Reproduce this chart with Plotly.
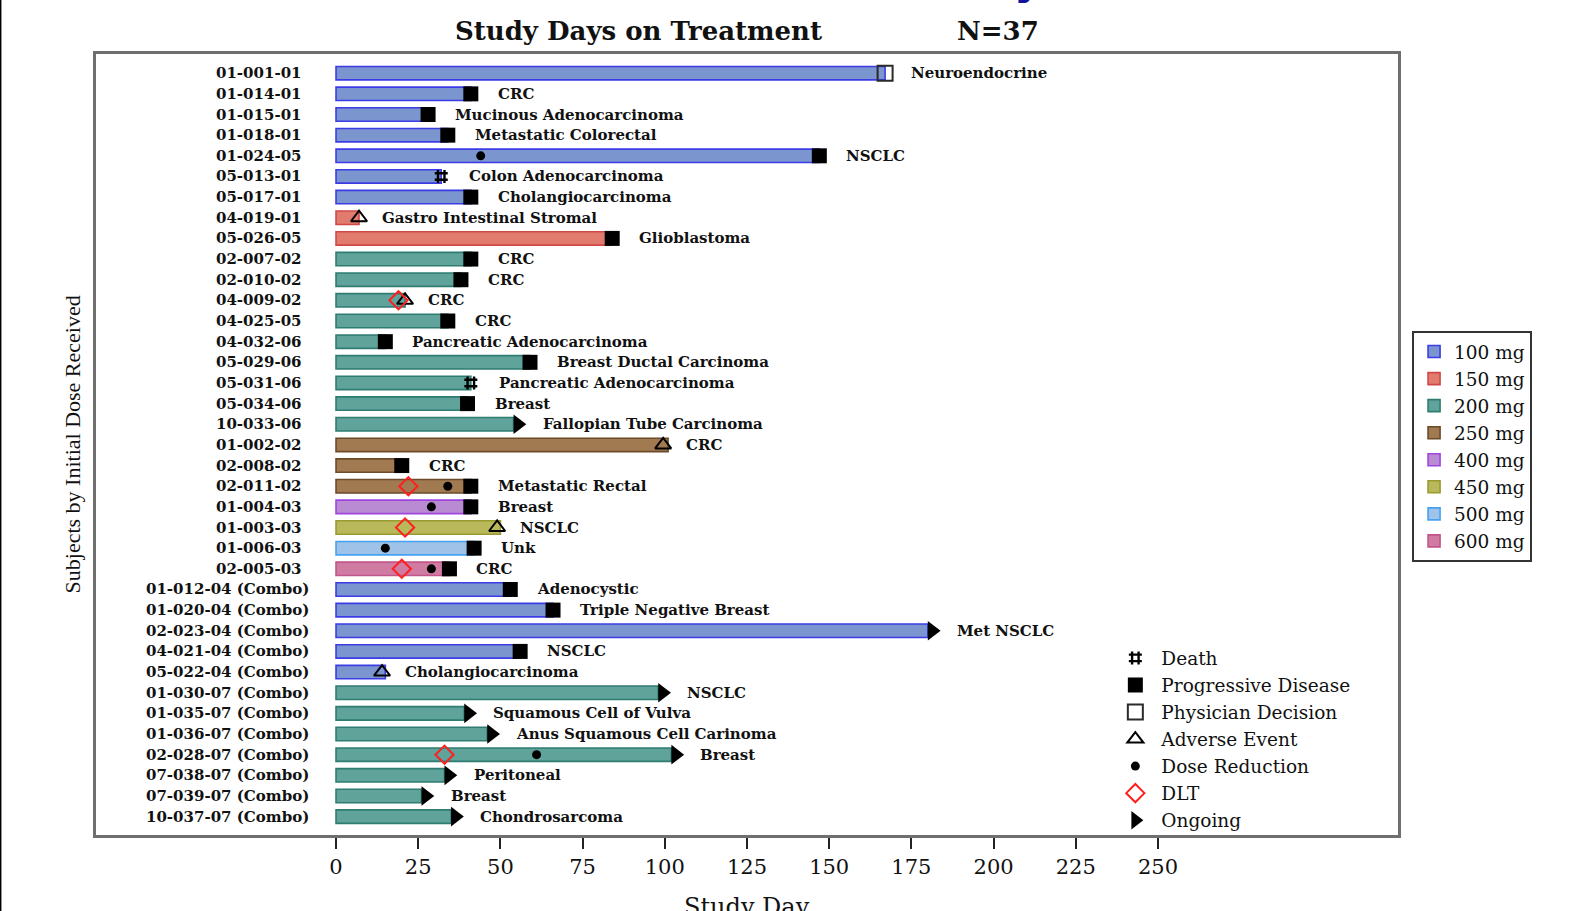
import plotly.graph_objects as go

# ---- subjects, listed top to bottom ----
subjects = [
    "01-001-01", "01-014-01", "01-015-01", "01-018-01", "01-024-05", "05-013-01", "05-017-01",
    "04-019-01", "05-026-05",
    "02-007-02", "02-010-02", "04-009-02", "04-025-05", "04-032-06", "05-029-06", "05-031-06",
    "05-034-06", "10-033-06",
    "01-002-02", "02-008-02", "02-011-02",
    "01-004-03", "01-003-03", "01-006-03", "02-005-03",
    "01-012-04 (Combo)", "01-020-04 (Combo)", "02-023-04 (Combo)", "04-021-04 (Combo)",
    "05-022-04 (Combo)",
    "01-030-07 (Combo)", "01-035-07 (Combo)", "01-036-07 (Combo)", "02-028-07 (Combo)",
    "07-038-07 (Combo)", "07-039-07 (Combo)", "10-037-07 (Combo)",
]
initial_dose = [
    100, 100, 100, 100, 100, 100, 100,
    150, 150,
    200, 200, 200, 200, 200, 200, 200, 200, 200,
    250, 250, 250,
    400, 450, 500, 600,
    100, 100, 100, 100, 100,
    200, 200, 200, 200, 200, 200, 200,
]
end_day = [
    167, 41, 28, 34, 147, 32, 41,
    7, 84,
    41, 38, 21, 34, 15, 59, 41, 40, 54,
    101, 20, 41,
    41, 50, 42, 34.5,
    53, 66, 180, 56, 15,
    98, 39, 46, 102, 33, 26, 35,
]
end_reason = [
    "Physician Decision", "Progressive Disease", "Progressive Disease", "Progressive Disease",
    "Progressive Disease", "Death", "Progressive Disease",
    "Adverse Event", "Progressive Disease",
    "Progressive Disease", "Progressive Disease", "Adverse Event", "Progressive Disease",
    "Progressive Disease", "Progressive Disease", "Death", "Progressive Disease", "Ongoing",
    "Adverse Event", "Progressive Disease", "Progressive Disease",
    "Progressive Disease", "Adverse Event", "Progressive Disease", "Progressive Disease",
    "Progressive Disease", "Progressive Disease", "Ongoing", "Progressive Disease", "Adverse Event",
    "Ongoing", "Ongoing", "Ongoing", "Ongoing", "Ongoing", "Ongoing", "Ongoing",
]
diagnosis = [
    "Neuroendocrine", "CRC", "Mucinous Adenocarcinoma", "Metastatic Colorectal", "NSCLC",
    "Colon Adenocarcinoma", "Cholangiocarcinoma",
    "Gastro Intestinal Stromal", "Glioblastoma",
    "CRC", "CRC", "CRC", "CRC", "Pancreatic Adenocarcinoma", "Breast Ductal Carcinoma",
    "Pancreatic Adenocarcinoma", "Breast", "Fallopian Tube Carcinoma",
    "CRC", "CRC", "Metastatic Rectal",
    "Breast", "NSCLC", "Unk", "CRC",
    "Adenocystic", "Triple Negative Breast", "Met NSCLC", "NSCLC", "Cholangiocarcinoma",
    "NSCLC", "Squamous Cell of Vulva", "Anus Squamous Cell Carinoma", "Breast",
    "Peritoneal", "Breast", "Chondrosarcoma",
]

# ---- on-study events ----
ae_subject = ["04-019-01", "04-009-02", "01-002-02", "01-003-03", "05-022-04 (Combo)"]
ae_day = [7, 21, 99.5, 49, 14]

dose_red_subject = ["01-024-05", "02-011-02", "01-004-03", "01-006-03", "02-005-03",
                    "02-028-07 (Combo)"]
dose_red_day = [44, 34, 29, 15, 29, 61]

dlt_subject = ["04-009-02", "02-011-02", "01-003-03", "02-005-03", "02-028-07 (Combo)"]
dlt_day = [19, 22, 21, 20, 33]

dose_levels = [100, 150, 200, 250, 400, 450, 500, 600]
x_ticks = [0, 25, 50, 75, 100, 125, 150, 175, 200, 225, 250]

# ---- styling ----
FILL = {100: "#7b95cf", 150: "#e07b6e", 200: "#5fa39a", 250: "#a27a52",
        400: "#b98bd2", 450: "#b9b95c", 500: "#9ec2e8", 600: "#d07ba2"}
EDGE = {100: "#3c3ce6", 150: "#d04848", 200: "#2f7c72", 250: "#6b4b2a",
        400: "#a044e0", 450: "#9a9a30", 500: "#45a2f2", 600: "#c0568a"}

SERIF = "DejaVu Serif"
FIG_W, FIG_H = 1571, 911
M_L, M_R, M_T, M_B = 96, 173, 54, 76
X_RANGE = [-73, 323]
Y_RANGE = [36.89, -0.93]
PLOT_W = FIG_W - M_L - M_R
PX_PER_DAY = PLOT_W / (X_RANGE[1] - X_RANGE[0])
LEGEND_FONT = dict(family=SERIF, size=18.5, color="#111111")

row = {s: i for i, s in enumerate(subjects)}

fig = go.Figure()

# treatment duration bars, one trace per starting dose
for lvl in dose_levels:
    idx = [i for i, d in enumerate(initial_dose) if d == lvl]
    fig.add_trace(go.Bar(
        x=[end_day[i] for i in idx], y=idx, base=0, orientation="h", width=0.65,
        marker=dict(color=FILL[lvl], line=dict(color=EDGE[lvl], width=1.6)),
        name=f"{lvl} mg", legend="legend", hoverinfo="skip",
    ))

TRI_R = 17 / 2  # half-size of the ongoing arrow marker, px


def end_points(reason, shift_px=0.0):
    idx = [i for i, r in enumerate(end_reason) if r == reason]
    return [end_day[i] + shift_px / PX_PER_DAY for i in idx], idx


x_d, y_d = end_points("Death")
fig.add_trace(go.Scatter(
    x=x_d, y=y_d, mode="markers", name="Death", legend="legend2",
    marker=dict(symbol="hash-open", size=13, color="black", line=dict(color="black", width=2.4)),
))
x_p, y_p = end_points("Progressive Disease")
fig.add_trace(go.Scatter(
    x=x_p, y=y_p, mode="markers", name="Progressive Disease", legend="legend2",
    marker=dict(symbol="square", size=15, color="black", line=dict(width=0)),
))
x_m, y_m = end_points("Physician Decision")
fig.add_trace(go.Scatter(
    x=x_m, y=y_m, mode="markers", name="Physician Decision", legend="legend2",
    marker=dict(symbol="square-open", size=15, color="#2a2a2a", line=dict(color="#2a2a2a", width=2)),
))
fig.add_trace(go.Scatter(
    x=ae_day, y=[row[s] for s in ae_subject], mode="markers", name="Adverse Event",
    legend="legend2",
    marker=dict(symbol="triangle-up-open", size=14, color="black", line=dict(color="black", width=2)),
))
fig.add_trace(go.Scatter(
    x=dose_red_day, y=[row[s] for s in dose_red_subject], mode="markers",
    name="Dose Reduction", legend="legend2",
    marker=dict(symbol="circle", size=9, color="black", line=dict(width=0)),
))
fig.add_trace(go.Scatter(
    x=dlt_day, y=[row[s] for s in dlt_subject], mode="markers", name="DLT", legend="legend2",
    marker=dict(symbol="diamond-open", size=14, color="#ff1f1f", line=dict(color="#ff1f1f", width=2)),
))
x_o, y_o = end_points("Ongoing", shift_px=TRI_R / 2)
fig.add_trace(go.Scatter(
    x=x_o, y=y_o, mode="markers", name="Ongoing", legend="legend2",
    marker=dict(symbol="triangle-right", size=17, color="black", line=dict(width=0)),
))

annotations = []
label_font = dict(family=SERIF, size=15, color="#111111", weight="bold")

# subject IDs on the left
for i, s in enumerate(subjects):
    annotations.append(dict(
        x=0, y=i, xref="x", yref="y", text=s, showarrow=False,
        xanchor="right", yanchor="middle", xshift=-25 if "Combo" in s else -32,
        font=label_font,
    ))

# diagnosis to the right of each bar
GAP = {"Progressive Disease": 25, "Death": 26, "Physician Decision": 24,
       "Adverse Event": 21, "Ongoing": 27}
ae_lookup = dict(zip(ae_subject, ae_day))
for i, s in enumerate(subjects):
    anchor = ae_lookup[s] if end_reason[i] == "Adverse Event" else end_day[i]
    annotations.append(dict(
        x=anchor, y=i, xref="x", yref="y", text=diagnosis[i], showarrow=False,
        xanchor="left", yanchor="middle", xshift=GAP[end_reason[i]],
        font=label_font,
    ))

title_font = dict(family=SERIF, size=26, color="#111111", weight="bold")
annotations += [
    dict(x=0.4165, y=1.0294, xref="paper", yref="paper", text="Study Days on Treatment",
         showarrow=False, xanchor="center", yanchor="middle", font=title_font),
    dict(x=0.693, y=1.0294, xref="paper", yref="paper", text="N=37",
         showarrow=False, xanchor="center", yanchor="middle", font=title_font),
    dict(x=-0.0177, y=0.5, xref="paper", yref="paper", text="Subjects by Initial Dose Received",
         showarrow=False, textangle=-90, xanchor="center", yanchor="middle",
         font=dict(family="Liberation Serif", size=22, color="#111111")),
    dict(x=0.5, y=-0.092, xref="paper", yref="paper", text="Study Day",
         showarrow=False, xanchor="center", yanchor="middle",
         font=dict(family=SERIF, size=24, color="#111111")),
    dict(x=0.716, y=1.062, xref="paper", yref="paper", text="y",
         showarrow=False, xanchor="center", yanchor="bottom",
         font=dict(family="DejaVu Sans", size=44, color="#12129a", weight="bold")),
]

fig.update_layout(
    width=FIG_W, height=FIG_H,
    margin=dict(l=M_L, r=M_R, t=M_T, b=M_B),
    paper_bgcolor="white", plot_bgcolor="white",
    barmode="overlay",
    showlegend=True,
    annotations=annotations,
    shapes=[dict(type="line", xref="paper", yref="paper",
                 x0=-0.0734, x1=-0.0734, y0=-0.2, y1=1.2,
                 line=dict(color="black", width=2))],
    xaxis=dict(
        range=X_RANGE, tickvals=x_ticks, ticktext=[str(t) for t in x_ticks],
        ticks="outside", ticklen=11, tickwidth=1.5, tickcolor="#222222",
        tickfont=dict(family=SERIF, size=21, color="#111111"),
        showline=True, linecolor="#6f6f6f", linewidth=3, mirror=True,
        showgrid=False, zeroline=False,
    ),
    yaxis=dict(
        range=Y_RANGE, showticklabels=False, ticks="",
        showline=True, linecolor="#6f6f6f", linewidth=3, mirror=True,
        showgrid=False, zeroline=False,
    ),
    legend=dict(
        x=1.0108, y=0.6453, xanchor="left", yanchor="top",
        bordercolor="#333333", borderwidth=2, bgcolor="white",
        font=LEGEND_FONT, tracegroupgap=0,
    ),
    legend2=dict(
        x=0.7783, y=0.2505, xanchor="left", yanchor="top",
        borderwidth=0, bgcolor="rgba(0,0,0,0)", itemwidth=42,
        font=LEGEND_FONT, tracegroupgap=0,
    ),
)

fig.write_html("out.html")
